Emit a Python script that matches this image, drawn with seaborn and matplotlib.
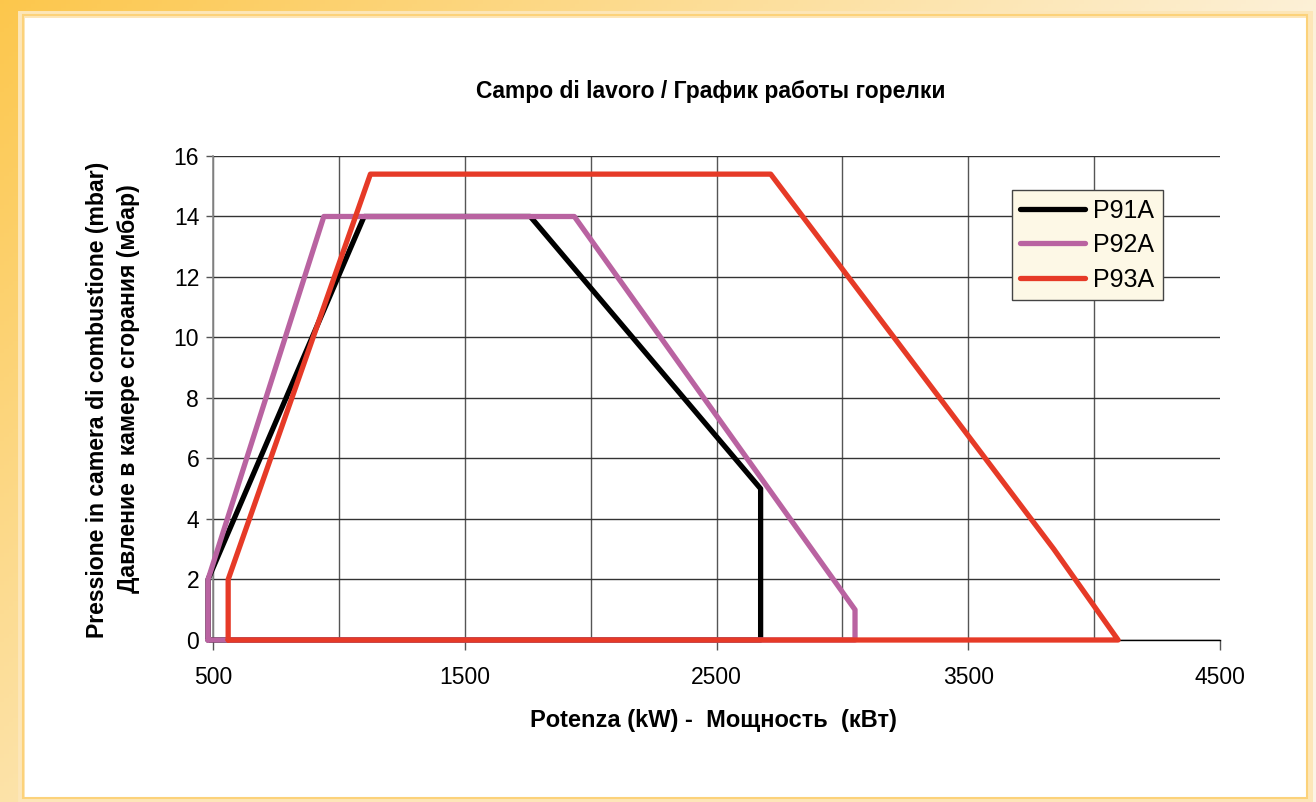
import numpy as np
import pandas as pd
import matplotlib
matplotlib.use("Agg")
import matplotlib.pyplot as plt
import seaborn as sns
from matplotlib.patches import Rectangle
from matplotlib.ticker import MultipleLocator, FixedLocator

# Data (kW, mbar)
series_names = ['P91A', 'P92A', 'P93A']
p91a_kw = [480, 480, 1100, 1760, 2675, 2675, 480]
p91a_mbar = [0, 2, 14, 14, 5, 0, 0]
p92a_kw = [480, 480, 940, 1935, 3050, 3050, 480]
p92a_mbar = [0, 2, 14, 14, 1, 0, 0]
p93a_kw = [560, 560, 1125, 2715, 3840, 4095, 560]
p93a_mbar = [0, 2, 15.4, 15.4, 3, 0, 0]
x_ticks = [500, 1500, 2500, 3500, 4500]

colors = {'P91A': '#000000', 'P92A': '#b963a1', 'P93A': '#e63a27'}

frames = []
for name, xs, ys in zip(series_names, [p91a_kw, p92a_kw, p93a_kw],
                        [p91a_mbar, p92a_mbar, p93a_mbar]):
    frames.append(pd.DataFrame({'kw': xs, 'mbar': ys, 'serie': name}))
df = pd.concat(frames, ignore_index=True)

sns.set_style('white')
plt.rcParams['font.family'] = ['Liberation Sans', 'DejaVu Sans']
plt.rcParams['text.color'] = 'black'
plt.rcParams['xtick.color'] = 'black'
plt.rcParams['ytick.color'] = 'black'

fig = plt.figure(figsize=(13.16, 8.02), dpi=100)

# background frame: warm gradient with white panel
bg = fig.add_axes([0, 0, 1, 1], zorder=-10)
gx, gy = np.meshgrid(np.linspace(0, 1, 300), np.linspace(0, 1, 200))
strength = np.clip(1.0 - 0.9 * gx - 0.6 * gy, 0, 1)
top = np.array([0.99, 0.78, 0.30])
low = np.array([0.99, 0.96, 0.90])
img = low[None, None, :] * (1 - strength[..., None]) + top[None, None, :] * strength[..., None]
bg.imshow(img, extent=[0, 1, 0, 1], aspect='auto', origin='upper')
bg.add_patch(Rectangle((0.016, 0.003), 0.979, 0.98, facecolor='white',
                       edgecolor='#fde6b8', linewidth=5))
bg.add_patch(Rectangle((0.0175, 0.005), 0.976, 0.976, facecolor='none',
                       edgecolor='#fcd27a', linewidth=1.5))
bg.set_xlim(0, 1)
bg.set_ylim(0, 1)
bg.axis('off')

ax = fig.add_axes([0.1619, 0.202, 0.7652, 0.6035])
ax.set_facecolor('none')

sns.lineplot(data=df, x='kw', y='mbar', hue='serie', palette=colors,
             sort=False, estimator=None, units='serie', linewidth=3.8,
             clip_on=False, ax=ax, zorder=5)

ax.set_xlim(500, 4500)
ax.set_ylim(0, 16)
ax.xaxis.set_major_locator(FixedLocator(x_ticks))
ax.xaxis.set_minor_locator(MultipleLocator(500))
ax.yaxis.set_major_locator(MultipleLocator(2))
ax.grid(which='both', axis='x', color='#555555', linewidth=1.0)
ax.grid(which='major', axis='y', color='#333333', linewidth=1.0)
ax.set_axisbelow(True)
# no gridline on the right edge
ax.xaxis.get_gridlines()[-1].set_visible(False)

for side in ['top', 'right']:
    ax.spines[side].set_visible(False)
ax.spines['left'].set_color('#888888')
ax.spines['left'].set_linewidth(1.2)
ax.spines['bottom'].set_color('#000000')
ax.spines['bottom'].set_linewidth(1.0)

ax.tick_params(axis='x', which='major', direction='out', length=7, width=1,
               color='#555555', labelsize=16.5, labelcolor='black', pad=12,
               bottom=True)
ax.tick_params(axis='x', which='minor', length=0)
ax.tick_params(axis='y', direction='out', length=5, width=1, color='#555555',
               labelsize=16.5, labelcolor='black', pad=5, left=True)

ax.set_xlabel('')
ax.set_ylabel('')

fig.text(0.54, 0.886, 'Campo di lavoro / График работы горелки',
         ha='center', va='center', fontsize=16.5, fontweight='bold')
fig.text(0.542, 0.101, 'Potenza (kW) -  Мощность  (кВт)',
         ha='center', va='center', fontsize=17, fontweight='bold')
fig.text(0.074, 0.501, 'Pressione in camera di combustione (mbar)',
         ha='center', va='center', rotation=90, fontsize=16.6, fontweight='bold')
fig.text(0.098, 0.516, 'Давление в камере сгорания (мбар)',
         ha='center', va='center', rotation=90, fontsize=16.6, fontweight='bold')

handles, labels = ax.get_legend_handles_labels()
leg = ax.legend(handles, labels, loc='upper left', bbox_to_anchor=(0.793, 0.93),
                frameon=True, fancybox=False, fontsize=18, handlelength=2.6,
                handletextpad=0.3, borderpad=0.35, labelspacing=0.42,
                borderaxespad=0)
leg.get_frame().set_facecolor('#fdf8e6')
leg.get_frame().set_edgecolor('#444444')
leg.get_frame().set_linewidth(1.0)
leg.get_frame().set_alpha(1.0)
leg.set_zorder(10)

fig.savefig('out.png', dpi=100)
